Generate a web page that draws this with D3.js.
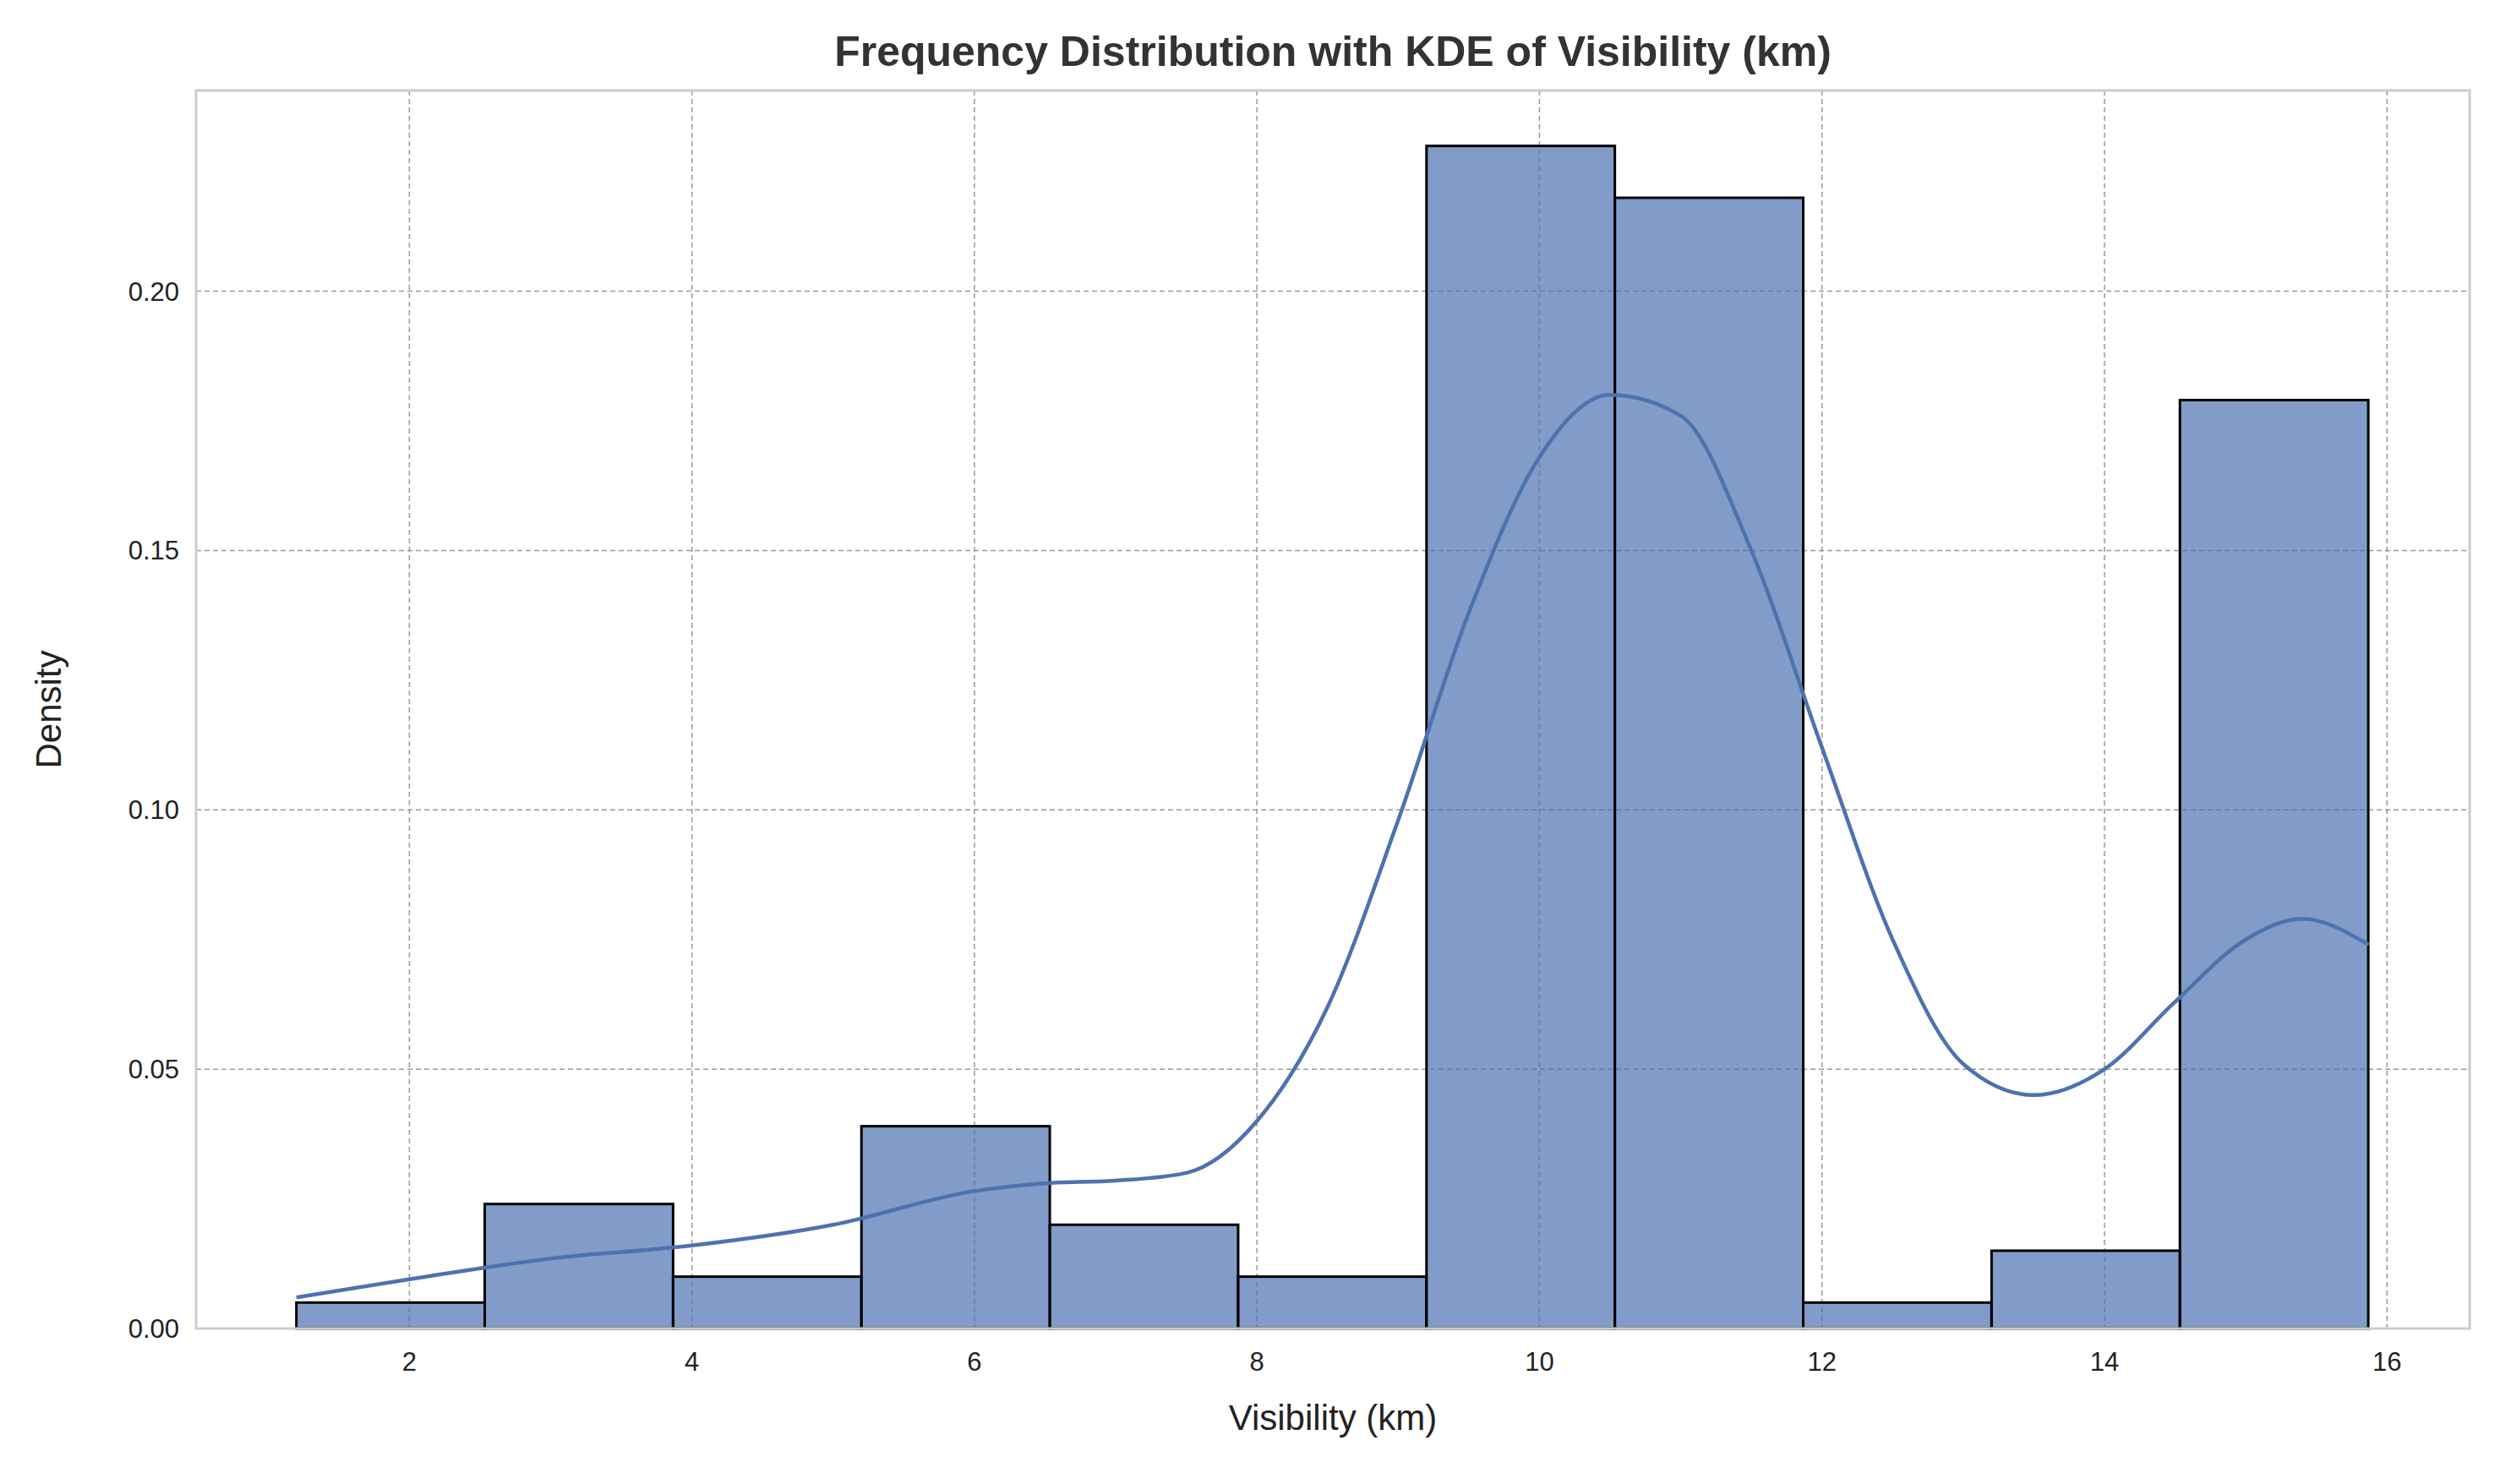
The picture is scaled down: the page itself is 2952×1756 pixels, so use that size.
<!DOCTYPE html>
<html><head><meta charset="utf-8">
<script src="https://cdn.jsdelivr.net/npm/d3@7"></script>
<style>body{margin:0;background:#fff;font-family:"Liberation Sans",Arial,sans-serif}</style>
</head><body><svg id="c" width="2952" height="1756"></svg>
<script>
// histogram bins (density) and KDE curve
const binStart = 1.2, binWidth = 1.3334;
const binDensity = [0.005, 0.024, 0.010, 0.039, 0.020, 0.010, 0.228, 0.218, 0.005, 0.015, 0.179];
const kdeX = [1.2, 2, 3, 4, 5, 6, 6.5, 7, 7.5, 8, 8.5, 9, 9.5, 10, 10.5, 11, 11.5, 12, 12.5, 13, 13.5, 14, 14.5, 15, 15.4, 15.87];
const kdeY = [0.006, 0.0095, 0.0135, 0.016, 0.020, 0.0265, 0.028, 0.0285, 0.030, 0.040, 0.062, 0.098, 0.138, 0.168, 0.180, 0.176, 0.150, 0.112, 0.075, 0.051, 0.045, 0.050, 0.063, 0.075, 0.079, 0.074];
const xTicks = [2, 4, 6, 8, 10, 12, 14, 16];
const yTicks = [0, 0.05, 0.10, 0.15, 0.20];

const svg = d3.select("#c");
const L = 232, R = 2922, T = 107, B = 1572;
const x = d3.scaleLinear().domain([0.49, 16.585]).range([L, R]);
const y = d3.scaleLinear().domain([0, 0.2387]).range([B, T]);

// grid
svg.append("g").selectAll("line").data(xTicks).enter().append("line")
  .attr("x1", d => x(d)).attr("x2", d => x(d)).attr("y1", T).attr("y2", B)
  .attr("stroke", "#999").attr("stroke-width", 1.5).attr("stroke-dasharray", "6,4");
svg.append("g").selectAll("line").data(yTicks).enter().append("line")
  .attr("x1", L).attr("x2", R).attr("y1", d => y(d)).attr("y2", d => y(d))
  .attr("stroke", "#999").attr("stroke-width", 1.5).attr("stroke-dasharray", "6,4");

// bars
svg.append("g").selectAll("rect").data(binDensity).enter().append("rect")
  .attr("x", (d, i) => x(binStart + i * binWidth))
  .attr("width", x(binStart + binWidth) - x(binStart))
  .attr("y", d => y(d)).attr("height", d => B - y(d))
  .attr("fill", "rgba(76,114,176,0.7)").attr("stroke", "#000").attr("stroke-width", 3);

// kde
const line = d3.line().x(d => x(d[0])).y(d => y(d[1])).curve(d3.curveMonotoneX);
svg.append("path").datum(kdeX.map((v, i) => [v, kdeY[i]]))
  .attr("d", line).attr("fill", "none").attr("stroke", "#4c72b0").attr("stroke-width", 4.5);

// frame
svg.append("rect").attr("x", L).attr("y", T).attr("width", R - L).attr("height", B - T)
  .attr("fill", "none").attr("stroke", "#ccc").attr("stroke-width", 3);

// tick labels
svg.append("g").selectAll("text").data(xTicks).enter().append("text")
  .attr("x", d => x(d)).attr("y", B + 50).attr("text-anchor", "middle")
  .attr("font-size", 31).attr("fill", "#222").text(d => d);
svg.append("g").selectAll("text").data(yTicks).enter().append("text")
  .attr("x", L - 20).attr("y", d => y(d) + 11).attr("text-anchor", "end")
  .attr("font-size", 31).attr("fill", "#222").text(d => d.toFixed(2));

// labels
svg.append("text").attr("x", (L + R) / 2).attr("y", 78).attr("text-anchor", "middle")
  .attr("font-size", 50).attr("font-weight", "bold").attr("fill", "#333")
  .text("Frequency Distribution with KDE of Visibility (km)");
svg.append("text").attr("x", (L + R) / 2).attr("y", B + 120).attr("text-anchor", "middle")
  .attr("font-size", 42).attr("fill", "#222").text("Visibility (km)");
svg.append("text").attr("transform", `translate(72,${(T + B) / 2}) rotate(-90)`)
  .attr("text-anchor", "middle").attr("font-size", 42).attr("fill", "#222").text("Density");
</script></body></html>
